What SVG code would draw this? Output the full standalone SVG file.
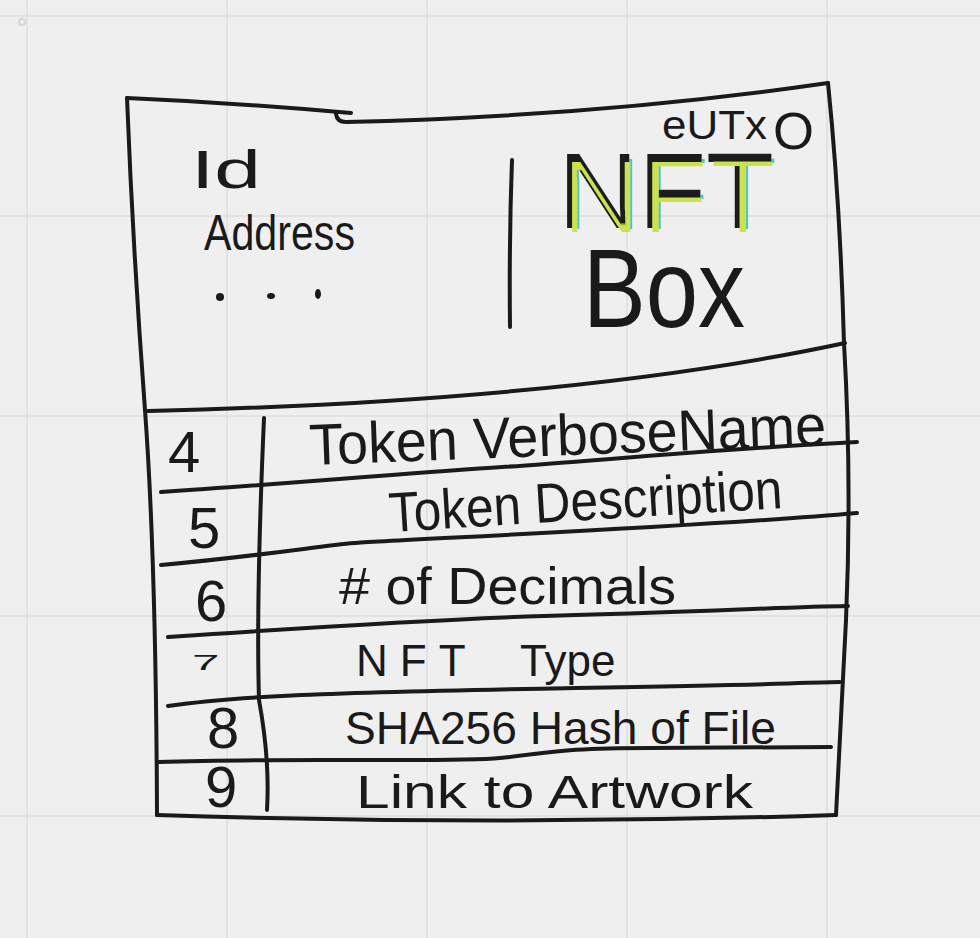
<svg xmlns="http://www.w3.org/2000/svg" width="980" height="938" viewBox="0 0 980 938">
<defs>
<style>
.ink{fill:none;stroke:#1a1a1a;stroke-width:4;stroke-linecap:round;stroke-linejoin:round}
.grid{stroke:#e2e2e2;stroke-width:2}
.t{font-family:"Liberation Sans","DejaVu Sans",sans-serif;fill:#1a1a1a}
.num{font-size:58px}
</style>
<filter id="nftfx" x="-10%" y="-10%" width="130%" height="130%">
<feMorphology in="SourceAlpha" operator="erode" radius="1.5" result="thinA"/>
<feOffset in="thinA" dx="5" dy="3" result="offA"/>
<feFlood flood-color="#4cc3d0"/>
<feComposite in2="offA" operator="in" result="cyan"/>
<feMorphology in="SourceAlpha" operator="erode" radius="2.2" result="thinB"/>
<feOffset in="thinB" dx="3" dy="6" result="offB"/>
<feFlood flood-color="#c9e34a"/>
<feComposite in2="offB" operator="in" result="lime"/>
<feMerge><feMergeNode in="cyan"/><feMergeNode in="SourceGraphic"/><feMergeNode in="lime"/></feMerge>
</filter>
</defs>
<rect width="980" height="938" fill="#efefef"/>
<g id="grid">
<line class="grid" x1="27" y1="0" x2="27" y2="938"/>
<line class="grid" x1="227" y1="0" x2="227" y2="938"/>
<line class="grid" x1="427" y1="0" x2="427" y2="938"/>
<line class="grid" x1="627" y1="0" x2="627" y2="938"/>
<line class="grid" x1="827" y1="0" x2="827" y2="938"/>
<line class="grid" x1="0" y1="16" x2="980" y2="16"/>
<line class="grid" x1="0" y1="216" x2="980" y2="216"/>
<line class="grid" x1="0" y1="416" x2="980" y2="416"/>
<line class="grid" x1="0" y1="616" x2="980" y2="616"/>
<line class="grid" x1="0" y1="816" x2="980" y2="816"/>
<circle cx="22" cy="22" r="3" fill="none" stroke="#d4d4d4" stroke-width="2"/>
</g>
<g id="box-outline">
<path class="ink" d="M127,98 Q240,103 351,113"/>
<path class="ink" d="M336,114 Q337,122 346,122 Q600,116 828,83"/>
<path class="ink" d="M828,83 Q840,200 844,343 Q852,480 846,620 Q840,740 836,815"/>
<path class="ink" d="M836,815 Q500,826 157,815"/>
<path class="ink" d="M127,98 Q133,250 145,410 Q156,560 157,815"/>
</g>
<g id="header">
<path class="ink" d="M148,411 C400,405 650,385 845,343"/>
<path class="ink" d="M512,160 Q509,240 510,327"/>
<text class="t" x="191" y="188" font-size="54" textLength="70" lengthAdjust="spacingAndGlyphs">Id</text>
<text class="t" x="204" y="250" font-size="50" textLength="151" lengthAdjust="spacingAndGlyphs">Address</text>
<ellipse cx="220" cy="297" rx="4" ry="4" fill="#1a1a1a"/>
<ellipse cx="271" cy="296" rx="4" ry="3" fill="#1a1a1a"/>
<ellipse cx="318" cy="294" rx="3" ry="5" fill="#1a1a1a"/>
<text class="t" y="139" font-size="40"><tspan x="662" textLength="105" lengthAdjust="spacingAndGlyphs">eUTx</tspan><tspan x="773" y="149" font-size="52" textLength="41" lengthAdjust="spacingAndGlyphs">O</tspan></text>
<text class="t" x="558" y="228" font-size="108" textLength="216" lengthAdjust="spacingAndGlyphs" filter="url(#nftfx)">NFT</text>
<text class="t" x="583" y="327" font-size="112" textLength="162" lengthAdjust="spacingAndGlyphs">Box</text>
</g>
<g id="table-lines">
<path class="ink" d="M161,492 C300,483 420,472 502,467 S700,450 857,442"/>
<path class="ink" d="M161,565 C260,556 320,546 354,543 S700,527 857,513"/>
<path class="ink" d="M168,637 C300,628 450,618 576,615 S780,607 848,606"/>
<path class="ink" d="M168,706 C230,697 300,693 576,688 S780,683 840,682"/>
<path class="ink" d="M158,762 C300,757 450,763 500,758 S560,748 650,748 L831,747"/>
<path class="ink" d="M264,418 Q256,600 259,700 Q270,760 267,810"/>
</g>
<g id="row-4">
<text class="t num" x="168" y="472" font-size="60">4</text>
<text class="t" x="310" y="465" font-size="58" textLength="517" lengthAdjust="spacingAndGlyphs" transform="rotate(-2.2 310 465)">Token VerboseName</text>
</g>
<g id="row-5">
<text class="t num" x="188" y="548">5</text>
<text class="t" x="390" y="532" font-size="56" textLength="394" lengthAdjust="spacingAndGlyphs" transform="rotate(-3.5 390 532)">Token Description</text>
</g>
<g id="row-6">
<text class="t num" x="195" y="621">6</text>
<text class="t" x="339" y="604" font-size="52" textLength="337" lengthAdjust="spacingAndGlyphs"># of Decimals</text>
</g>
<g id="row-7">
<text class="t" x="0" y="0" font-size="26" transform="translate(192 670) scale(1.9 0.85)">7</text>
<text class="t" y="676" font-size="44"><tspan x="356" letter-spacing="12">NFT </tspan><tspan x="520">Type</tspan></text>
</g>
<g id="row-8">
<text class="t num" x="207" y="748" font-size="44">8</text>
<text class="t" x="345" y="744" font-size="47" textLength="431" lengthAdjust="spacingAndGlyphs">SHA256 Hash of File</text>
</g>
<g id="row-9">
<text class="t num" x="205" y="807" font-size="46">9</text>
<text class="t" x="356" y="808" font-size="47" textLength="397" lengthAdjust="spacingAndGlyphs">Link to Artwork</text>
</g>
</svg>
